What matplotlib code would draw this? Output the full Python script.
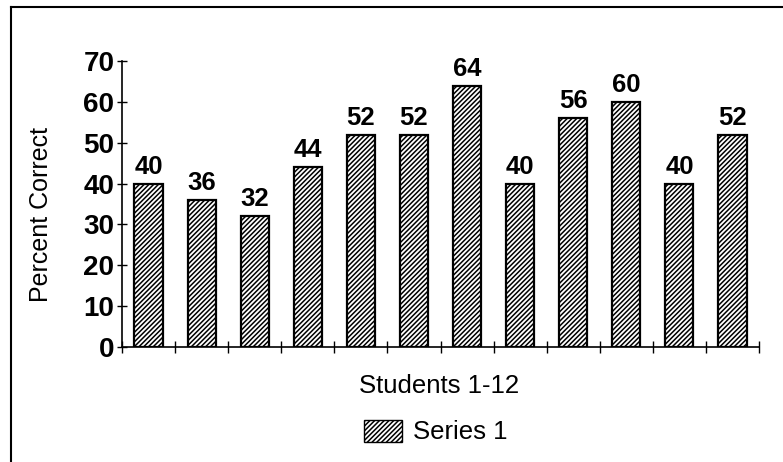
import matplotlib.pyplot as plt
from matplotlib.lines import Line2D
from matplotlib.patches import Patch

plt.rcParams['font.family'] = ['Liberation Sans', 'DejaVu Sans']
plt.rcParams['hatch.linewidth'] = 1.1

# --- datos ---
students = list(range(1, 13))
scores = [40, 36, 32, 44, 52, 52, 64, 40, 56, 60, 40, 52]
yticks = [0, 10, 20, 30, 40, 50, 60, 70]

W, H = 783, 462
fig = plt.figure(figsize=(W / 100, H / 100), dpi=100)
ax = fig.add_axes([122 / W, 1 - 347 / H, (759 - 122) / W, (347 - 61) / H])

bars = ax.bar(students, scores, width=0.53, color='white', edgecolor='black',
              hatch='///////', linewidth=1.6)
for x, v in zip(students, scores):
    ax.text(x, v + 1.2, str(v), ha='center', va='bottom', fontsize=18.5,
            fontweight='bold')

ax.set_xlim(0.5, 12.5)
ax.set_ylim(0, 70)
ax.set_yticks(yticks)
ax.set_yticklabels([str(t) for t in yticks], fontsize=20, fontweight='bold')
ax.set_xticks([i + 0.5 for i in range(0, 13)])
ax.set_xticklabels([])
ax.tick_params(axis='x', direction='inout', length=8, width=1)
ax.tick_params(axis='y', direction='inout', length=7, width=1, pad=2)
ax.spines['top'].set_visible(False)
ax.spines['right'].set_visible(False)
ax.spines['left'].set_linewidth(1.2)
ax.spines['bottom'].set_linewidth(1.2)

fig.text(41 / W, 1 - 214 / H, 'Percent Correct', rotation=90, ha='center',
         va='center', fontsize=18)
fig.text(439 / W, 1 - 386 / H, 'Students 1-12', ha='center', va='center',
         fontsize=18.5)

handle = Patch(facecolor='white', edgecolor='black', hatch='///////')
fig.legend([handle], ['Series 1'], loc='center', bbox_to_anchor=(436 / W, 1 - 432 / H),
           frameon=False, fontsize=18.5, handlelength=1.45, handleheight=0.95,
           handletextpad=0.45, borderpad=0, borderaxespad=0)

# marco exterior
fig.add_artist(Line2D([11 / W, 11 / W], [0, 1 - 7 / H], color='black', lw=1.5))
fig.add_artist(Line2D([11 / W, 1], [1 - 7 / H, 1 - 7 / H], color='black', lw=1.5))

fig.savefig('out.png', dpi=100)
plt.close(fig)
